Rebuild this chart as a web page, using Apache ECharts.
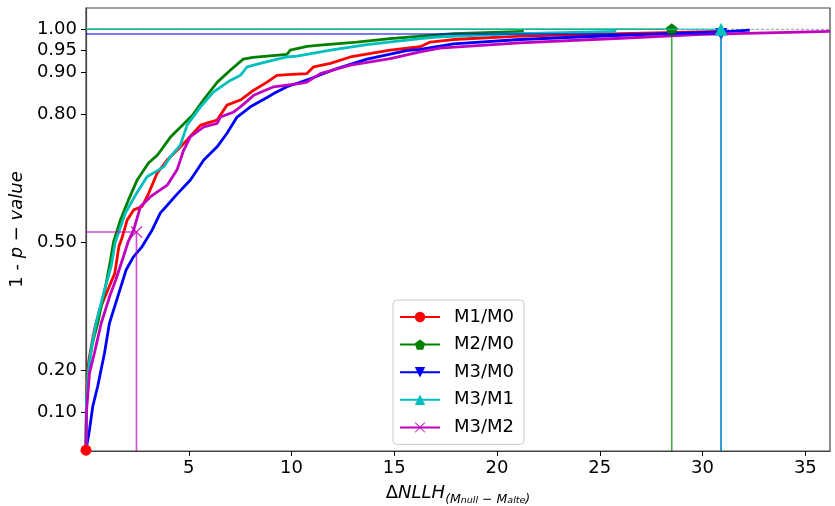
<!DOCTYPE html>
<html>
<head>
<meta charset="utf-8">
<script src="https://cdn.jsdelivr.net/npm/echarts@6/dist/echarts.min.js"></script>
<style>html,body{margin:0;padding:0;background:#fff}#c{width:835px;height:506px}</style>
</head>
<body>
<div id="c"></div>
<script>
// ---- data ----
const seriesNames = ['M1/M0', 'M2/M0', 'M3/M0', 'M3/M1', 'M3/M2'];
const xTicks = [5, 10, 15, 20, 25, 30, 35];
const yTicks = [0.10, 0.20, 0.50, 0.80, 0.90, 0.95, 1.00];

const m1m0 = [[0,0.012],[0.02,0.1],[0.06,0.194],[0.17,0.232],[0.41,0.295],[0.66,0.341],[1.06,0.388],[1.4,0.427],[1.6,0.49],[1.75,0.51],[2.0,0.552],[2.32,0.576],[2.73,0.584],[3.05,0.615],[3.46,0.662],[3.95,0.693],[4.43,0.716],[4.92,0.740],[5.57,0.775],[6.38,0.787],[6.86,0.822],[7.51,0.834],[8.16,0.857],[8.81,0.876],[9.29,0.892],[10.0,0.894],[10.75,0.896],[11.08,0.912],[11.89,0.920],[12.86,0.935],[14.8,0.951],[16.26,0.959],[16.75,0.970],[17.87,0.976],[21.1,0.984],[26,0.990],[30.9,0.995]];
const m2m0 = [[0,0.012],[0.02,0.12],[0.1,0.2],[0.3,0.26],[0.57,0.31],[0.74,0.349],[0.98,0.404],[1.2,0.46],[1.34,0.501],[1.68,0.553],[2.07,0.600],[2.5,0.647],[3.04,0.686],[3.48,0.705],[4.11,0.747],[4.69,0.775],[5.18,0.798],[5.71,0.834],[6.39,0.876],[7.02,0.904],[7.65,0.930],[8.13,0.934],[9.78,0.941],[9.94,0.951],[10.75,0.960],[11.4,0.963],[13.18,0.970],[14.8,0.978],[16.6,0.985],[17.9,0.99],[21.3,0.995]];
const m3m0 = [[0,0.012],[0.06,0.029],[0.17,0.060],[0.33,0.115],[0.57,0.162],[0.90,0.240],[1.14,0.310],[1.55,0.373],[1.95,0.435],[2.3,0.465],[2.73,0.49],[3.22,0.529],[3.62,0.569],[3.9,0.584],[4.43,0.613],[5.08,0.646],[5.73,0.693],[6.38,0.724],[6.86,0.756],[7.35,0.794],[8.0,0.818],[8.81,0.840],[9.13,0.849],[9.78,0.865],[10.91,0.884],[12.21,0.908],[13.67,0.930],[15.6,0.950],[16.26,0.953],[17.88,0.966],[21.1,0.976],[26,0.986],[30.9,0.994],[32.3,0.998]];
const m3m1 = [[0,0.012],[0.02,0.12],[0.12,0.2],[0.25,0.248],[0.49,0.31],[0.82,0.373],[1.22,0.443],[1.43,0.501],[1.92,0.569],[2.41,0.611],[2.97,0.654],[3.78,0.677],[4.11,0.701],[4.59,0.728],[4.92,0.775],[5.57,0.818],[6.21,0.853],[7.02,0.880],[7.51,0.892],[7.84,0.912],[8.48,0.920],[9.78,0.935],[10.27,0.937],[11.9,0.951],[13.67,0.964],[16.26,0.978],[17.2,0.982],[21.1,0.99],[25.8,0.995]];
const m3m2 = [[0,0.012],[0.02,0.1],[0.17,0.193],[0.41,0.240],[0.74,0.310],[1.15,0.373],[1.45,0.412],[1.82,0.466],[2.05,0.501],[2.32,0.529],[2.65,0.584],[3.14,0.607],[3.95,0.634],[4.43,0.670],[4.75,0.716],[5.08,0.748],[5.73,0.771],[6.38,0.779],[6.54,0.794],[7.19,0.806],[7.51,0.818],[8.16,0.845],[9.13,0.865],[10.43,0.873],[10.75,0.876],[11.4,0.896],[12.86,0.916],[14.8,0.931],[16.26,0.947],[17.2,0.956],[21.1,0.968],[26,0.979],[30,0.988],[36.2,0.995]];

// critical points (x, y) per series
const critX = [0.0, 28.5, 30.9, 30.9, 2.455];
const critY = [0.012, 1.0, 0.989, 1.0, 0.524];

const xMin = 0, xMax = 36.2, yMin = 0.01, yMax = 1.05;

// ---- styling ----
const colors = ['#ff0000', '#008000', '#0000ff', '#00bfbf', '#bf00bf'];
const pentagon = 'path://M0,-1 L0.951,-0.309 L0.588,0.809 L-0.588,0.809 L-0.951,-0.309 Z';
const triDown = 'path://M-1,-0.9 L1,-0.9 L0,0.9 Z';
const triUp = 'path://M0,-0.9 L1,0.9 L-1,0.9 Z';
const xCross = 'path://M-1,-0.88 L-0.88,-1 L0,-0.12 L0.88,-1 L1,-0.88 L0.12,0 L1,0.88 L0.88,1 L0,0.12 L-0.88,1 L-1,0.88 L-0.12,0 Z';
const symbols = ['circle', pentagon, triDown, triUp, xCross];
const symSizes = [11, 12, 12, 13, 12];
const curves = [m1m0, m2m0, m3m0, m3m1, m3m2];
const FONT = 'DejaVu Sans';
const FS = 18;

const series = [];
// reference dashed line at y = 1
series.push({
  name: '', type: 'line', data: [[xMin, 1.0], [xMax, 1.0]],
  symbol: 'none', lineStyle: {color: '#999', width: 1, type: [3, 2]}, silent: true, z: 1
});
curves.forEach((d, i) => {
  series.push({
    name: seriesNames[i], type: 'line', data: d,
    symbol: symbols[i], symbolSize: symSizes[i], showSymbol: false,
    lineStyle: {color: colors[i], width: 2.8}, itemStyle: {color: colors[i]},
    z: 2 + i
  });
});
// crosshair lines and markers
curves.forEach((d, i) => {
  series.push({
    name: seriesNames[i], type: 'line', clip: false,
    data: [
      {value: [xMin, critY[i]], symbol: 'none'},
      {value: [critX[i], critY[i]], symbol: symbols[i], symbolSize: symSizes[i]},
      {value: [critX[i], yMin], symbol: 'none'}
    ],
    showSymbol: true,
    lineStyle: {color: colors[i], width: 1.6, opacity: 0.7},
    itemStyle: {color: colors[i]},
    z: 10 + i
  });
});

const chart = echarts.init(document.getElementById('c'), null, {renderer: 'canvas'});
chart.setOption({
  animation: false,
  backgroundColor: '#fff',
  textStyle: {fontFamily: FONT},
  grid: {left: 86, right: 5, top: 8, bottom: 55, containLabel: false, outerBoundsMode: 'none',
         show: true, borderColor: '#444', borderWidth: 1.2},
  legend: {
    data: seriesNames,
    orient: 'vertical', left: 393, top: 300,
    itemWidth: 40, itemHeight: 13, itemGap: 9.6,
    padding: [8, 10, 8, 6],
    borderColor: '#cccccc', borderWidth: 1, borderRadius: 4,
    backgroundColor: 'rgba(255,255,255,0.85)',
    textStyle: {fontSize: FS, color: '#000', fontFamily: FONT, padding: [0, 0, 0, 9]}
  },
  xAxis: {
    type: 'value', min: xMin, max: xMax,
    axisLine: {lineStyle: {color: '#444', width: 1.2}},
    axisTick: {show: true, length: 5, lineStyle: {color: '#000'}, customValues: xTicks},
    axisLabel: {fontSize: FS, color: '#000', margin: 8, customValues: xTicks, formatter: v => String(v)},
    splitLine: {show: false},
    name: '{a|Δ}{i|NLLH}{s|(M}{ss|null}{s| − M}{ss|alte}{s|)}',
    nameLocation: 'middle', nameGap: 33,
    nameTextStyle: {
      rich: {
        a: {fontSize: FS, color: '#000', fontFamily: FONT, verticalAlign: 'top', lineHeight: 22},
        i: {fontSize: FS, color: '#000', fontFamily: FONT, fontStyle: 'italic', verticalAlign: 'top', lineHeight: 22},
        s: {fontSize: 12.5, color: '#000', fontFamily: FONT, fontStyle: 'italic', verticalAlign: 'bottom', lineHeight: 14},
        ss: {fontSize: 9.5, color: '#000', fontFamily: FONT, fontStyle: 'italic', verticalAlign: 'bottom', lineHeight: 10}
      }
    }
  },
  yAxis: {
    type: 'value', min: yMin, max: yMax,
    axisLine: {lineStyle: {color: '#444', width: 1.2}},
    axisTick: {show: true, length: 5, lineStyle: {color: '#000'}, customValues: yTicks},
    axisLabel: {fontSize: FS, color: '#000', margin: 9, customValues: yTicks, formatter: v => v.toFixed(2)},
    splitLine: {show: false},
    name: '1 - {i|p − value}',
    nameLocation: 'middle', nameGap: 57, nameRotate: 90,
    nameTextStyle: {fontSize: FS, color: '#000', fontFamily: FONT,
      rich: {i: {fontSize: FS, color: '#000', fontFamily: FONT, fontStyle: 'italic'}}}
  },
  series: series
});
</script>
</body>
</html>
